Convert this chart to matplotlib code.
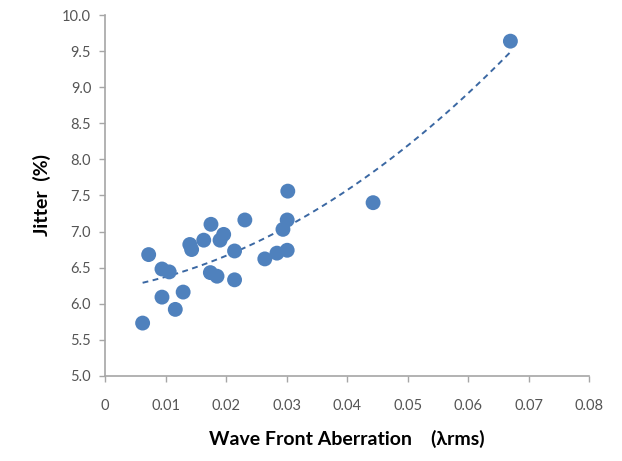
import numpy as np
import matplotlib
matplotlib.use("Agg")
import matplotlib.pyplot as plt

# Wave front aberration (lambda rms) vs jitter (%)
aberration = [0.0062, 0.0072, 0.0094, 0.0106, 0.0094, 0.0116, 0.0129, 0.0140, 0.0143,
              0.0163, 0.0175, 0.0190, 0.0196, 0.0174, 0.0185, 0.0214, 0.0214, 0.0231,
              0.0264, 0.0284, 0.0301, 0.0302, 0.0301, 0.0294, 0.0443, 0.0670]
jitter = [5.73, 6.68, 6.48, 6.44, 6.09, 5.92, 6.16, 6.82, 6.75,
          6.88, 7.10, 6.88, 6.96, 6.43, 6.38, 6.73, 6.33, 7.16,
          6.62, 6.70, 6.74, 7.56, 7.16, 7.03, 7.40, 9.64]

x_ticks = [0, 0.01, 0.02, 0.03, 0.04, 0.05, 0.06, 0.07, 0.08]
x_tick_labels = ["0", "0.01", "0.02", "0.03", "0.04", "0.05", "0.06", "0.07", "0.08"]
y_ticks = np.arange(5.0, 10.01, 0.5)

blue = "#4F81BD"
grey = "#A6A6A6"

fig = plt.figure(figsize=(6.22, 4.61), dpi=100)
ax = fig.add_axes([0.169, 0.185, 0.778, 0.782])

ax.scatter(aberration, jitter, s=115, color=blue, edgecolors="none", zorder=3)

# polynomial trendline (order 2), like the Excel one
x = np.array(aberration)
coef = np.polyfit(x, jitter, 2)
xs = np.linspace(x.min(), x.max(), 200)
ax.plot(xs, np.polyval(coef, xs), color="#3B68A3", lw=1.4, ls=(0, (3, 2.3)), zorder=2)

ax.set_xlim(0, 0.08)
ax.set_ylim(5.0, 10.0)
ax.set_xticks(x_ticks)
ax.set_xticklabels(x_tick_labels)
ax.set_yticks(y_ticks)
ax.set_yticklabels([f"{v:.1f}" for v in y_ticks])

for side in ["top", "right"]:
    ax.spines[side].set_visible(False)
for side in ["left", "bottom"]:
    ax.spines[side].set_color(grey)
    ax.spines[side].set_linewidth(1.2)

ax.tick_params(axis="both", direction="out", length=4, width=1, color=grey,
               labelsize=10.5, labelcolor="#555555")
ax.tick_params(axis="x", pad=13)
ax.tick_params(axis="y", pad=6)
for lab in ax.get_xticklabels() + ax.get_yticklabels():
    lab.set_family("Lato")

ax.set_xlabel("Wave Front Aberration    (\u03bbrms)", fontsize=14, fontweight="bold",
              family="Lato", labelpad=12)
ax.set_ylabel("Jitter  (%)", fontsize=14, fontweight="bold", family="Lato", labelpad=8)

fig.savefig("out.png", dpi=100)
